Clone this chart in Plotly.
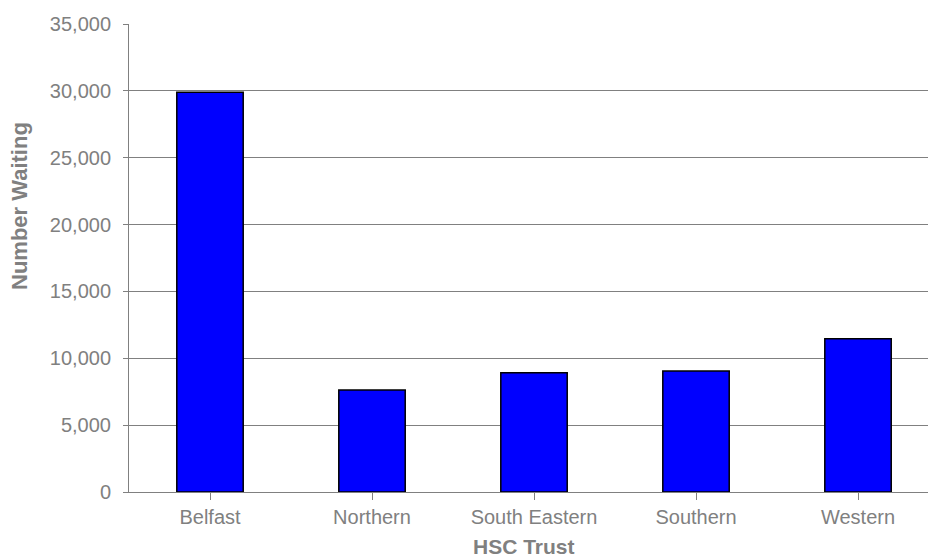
import plotly.graph_objects as go

categories = ["Belfast", "Northern", "South Eastern", "Southern", "Western"]
values = [29900, 7620, 8920, 9050, 11460]
y_ticks = [0, 5000, 10000, 15000, 20000, 25000, 30000, 35000]
y_tick_labels = ["0", "5,000", "10,000", "15,000", "20,000", "25,000", "30,000", "35,000"]
x_title = "HSC Trust"
y_title = "Number Waiting"

grey = "#808080"
fig = go.Figure()
fig.add_trace(go.Bar(
    x=list(range(len(categories))), y=values, width=0.41,
    marker=dict(color="#0000FF", line=dict(color="#000000", width=1.5)),
))
fig.update_layout(
    width=928, height=560,
    margin=dict(l=129, r=0, t=24, b=68),
    paper_bgcolor="white", plot_bgcolor="white",
    font=dict(family="Liberation Sans, Arial, sans-serif", size=20, color=grey),
    showlegend=False,
    xaxis=dict(
        tickmode="array", tickvals=list(range(len(categories))), ticktext=categories,
        range=[-0.5, 4.432], showgrid=False, zeroline=False,
        showline=True, linecolor=grey, linewidth=1,
        ticks="outside", ticklen=7, tickcolor=grey, tickson="boundaries",
        tickfont=dict(size=20, color=grey),
    ),
    yaxis=dict(
        range=[0, 35000], tickvals=y_ticks, ticktext=y_tick_labels,
        showgrid=True, gridcolor=grey, gridwidth=1, zeroline=False,
        showline=True, linecolor=grey, linewidth=1,
        ticks="outside", ticklen=5, tickcolor=grey,
        tickfont=dict(size=20, color=grey), ticklabelstandoff=8,
    ),
    annotations=[
        dict(text="<b>" + x_title + "</b>", xref="paper", yref="paper",
             x=(524 - 129) / 799, y=-(546 - 492) / 468, xanchor="center", yanchor="middle",
             showarrow=False, font=dict(size=21, color=grey)),
        dict(text="<b>" + y_title + "</b>", xref="paper", yref="paper", textangle=-90,
             x=(20 - 129) / 799, y=(492 - 206) / 468, xanchor="center", yanchor="middle",
             showarrow=False, font=dict(size=22, color=grey)),
    ],
)
fig.write_html("out.html")
